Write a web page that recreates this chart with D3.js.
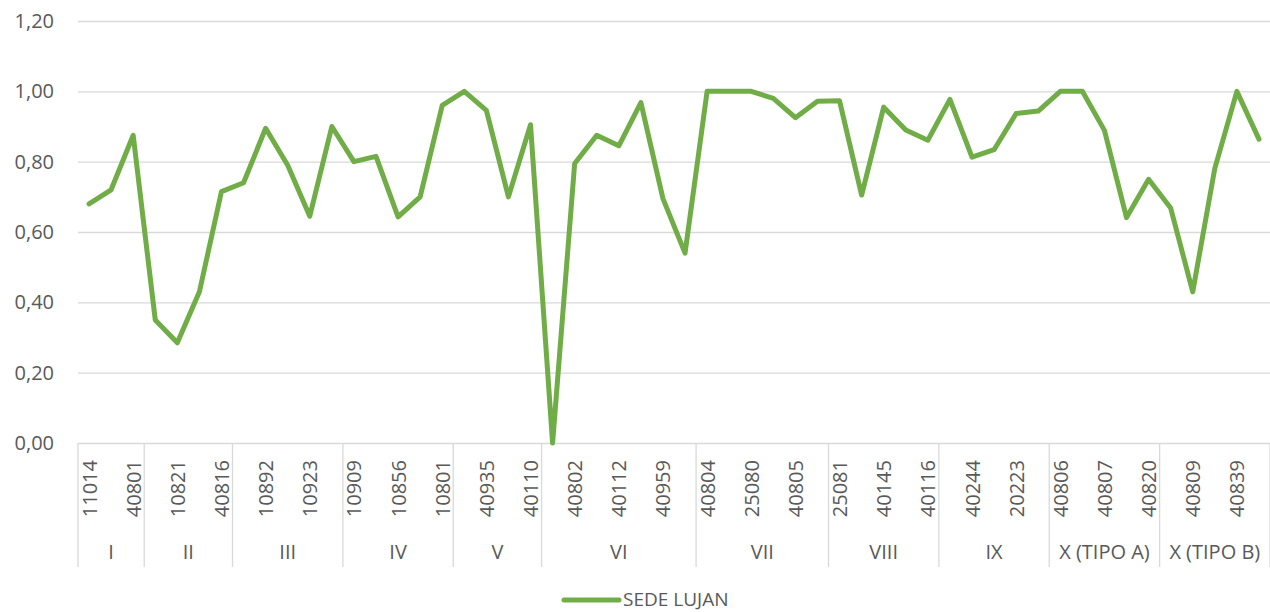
<!DOCTYPE html>
<html>
<head>
<meta charset="utf-8">
<title>Sede Lujan</title>
<script src="https://cdn.jsdelivr.net/npm/d3@7"></script>
<style>
  body { margin: 0; background: #fff; }
  text { font-family: "Open Sans", sans-serif; fill: #595959; }
</style>
</head>
<body>
<div class="chart"></div>
<script>
// groups (first axis level) and how many codes each holds
var groupNames = ["I", "II", "III", "IV", "V", "VI", "VII", "VIII", "IX", "X (TIPO A)", "X (TIPO B)"];
var groupSizes = [3, 4, 5, 5, 4, 7, 6, 5, 5, 5, 5];

// codes (second level); only every other one is printed on the reference, the rest are unknown
var codes = [
  "11014", null, "40801", null, "10821", null, "40816", null, "10892", null,
  "10923", null, "10909", null, "10856", null, "10801", null, "40935", null,
  "40110", null, "40802", null, "40112", null, "40959", null, "40804", null,
  "25080", null, "40805", null, "25081", null, "40145", null, "40116", null,
  "40244", null, "20223", null, "40806", null, "40807", null, "40820", null,
  "40809", null, "40839", null
];

var seriesName = "SEDE LUJAN";
var values = [
  0.68, 0.72, 0.875, 0.35, 0.285, 0.43, 0.715, 0.74, 0.895, 0.79,
  0.645, 0.90, 0.80, 0.815, 0.643, 0.70, 0.96, 1.00, 0.946, 0.70,
  0.905, 0.00, 0.795, 0.875, 0.845, 0.968, 0.695, 0.54, 1.00, 1.00,
  1.00, 0.98, 0.925, 0.972, 0.973, 0.705, 0.955, 0.89, 0.861, 0.977,
  0.813, 0.834, 0.937, 0.944, 1.00, 1.00, 0.889, 0.641, 0.75, 0.668,
  0.43, 0.781, 1.00, 0.864
];

var yTicks = [0, 0.2, 0.4, 0.6, 0.8, 1.0, 1.2];

var width = 1270, height = 612;
var plotL = 78, plotR = 1270, plotT = 21, plotB = 443;

var svg = d3.select(".chart").append("svg")
  .attr("width", width)
  .attr("height", height);

var x = d3.scalePoint()
  .domain(d3.range(values.length))
  .range([plotL, plotR])
  .padding(0.5);

var y = d3.scaleLinear()
  .domain([0, 1.2])
  .range([plotB, plotT]);

var fmt = d3.formatLocale({decimal: ",", thousands: ".", grouping: [3], currency: ["", ""]}).format(".2f");

// y axis with gridlines
var yAxis = svg.append("g")
  .attr("transform", "translate(" + plotL + ",0)")
  .call(d3.axisLeft(y).tickValues(yTicks).tickSize(-(plotR - plotL)).tickPadding(24).tickFormat(fmt));
yAxis.select(".domain").remove();
yAxis.selectAll("line").attr("stroke", "#d9d9d9").attr("stroke-width", 1.3);
yAxis.selectAll("text").style("font-size", "20px").attr("fill", "#595959");

// code labels (every other one)
var shown = d3.range(0, values.length, 2).filter(function(i){ return codes[i]; });
var xAxis = svg.append("g")
  .attr("transform", "translate(0," + plotB + ")")
  .call(d3.axisBottom(x).tickValues(shown).tickSize(0).tickFormat(function(i){ return codes[i]; }));
xAxis.select(".domain").remove();
xAxis.selectAll("text")
  .style("font-size", "20px")
  .attr("fill", "#595959")
  .attr("text-anchor", "end")
  .attr("dy", "0.35em")
  .attr("y", 0)
  .attr("transform", "translate(0,17) rotate(-90)");

// group separators and group labels
var step = x.step();
var starts = [0];
groupSizes.forEach(function(n, i){ starts.push(starts[i] + n); });

svg.selectAll(".sep")
  .data(starts)
  .enter()
  .append("line")
  .attr("class", "sep")
  .attr("x1", function(d){ return plotL + d * step; })
  .attr("x2", function(d){ return plotL + d * step; })
  .attr("y1", plotB)
  .attr("y2", 567)
  .attr("stroke", "#d9d9d9")
  .attr("stroke-width", 1.3);

svg.selectAll(".grp")
  .data(groupNames)
  .enter()
  .append("text")
  .attr("class", "grp")
  .attr("x", function(d, i){ return plotL + (starts[i] + groupSizes[i] / 2) * step; })
  .attr("y", 552)
  .attr("dy", "0.35em")
  .attr("text-anchor", "middle")
  .style("font-size", "20px")
  .text(function(d){ return d; });

// the series
var line = d3.line()
  .x(function(d, i){ return x(i); })
  .y(function(d){ return y(d); });

svg.append("path")
  .datum(values)
  .attr("d", line)
  .attr("fill", "none")
  .attr("stroke", "#70ad47")
  .attr("stroke-width", 5)
  .attr("stroke-linejoin", "round")
  .attr("stroke-linecap", "round");

// legend
var lg = svg.append("g").attr("transform", "translate(564,600)");
lg.append("line")
  .attr("x1", 0).attr("x2", 55)
  .attr("stroke", "#70ad47")
  .attr("stroke-width", 5)
  .attr("stroke-linecap", "round");
lg.append("text")
  .attr("x", 59)
  .attr("dy", "0.3em")
  .style("font-size", "19px")
  .text(seriesName);
</script>
</body>
</html>
